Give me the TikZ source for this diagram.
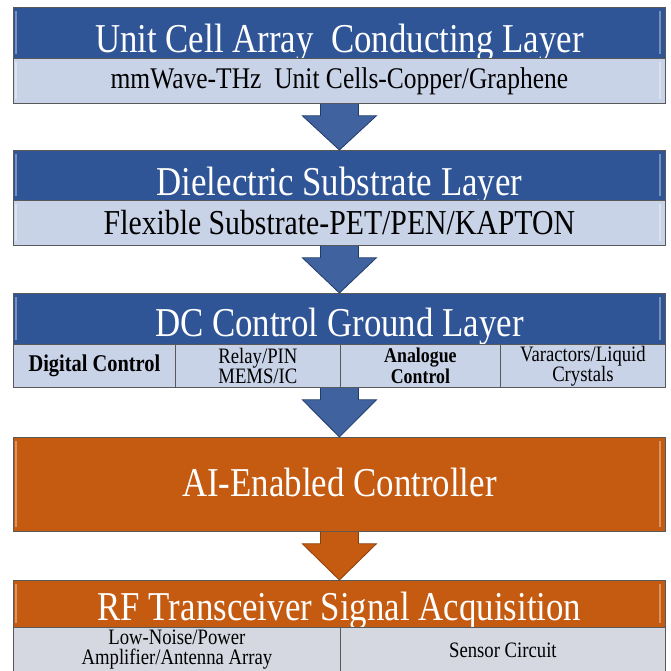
\documentclass[tikz,border=0pt]{standalone}
\usepackage{fontspec}
\setmainfont[FakeStretch=0.85]{Liberation Serif}
\usepackage{xcolor}
\definecolor{db}{RGB}{47, 85, 151}
\definecolor{lb}{RGB}{201, 211, 232}
\definecolor{og}{RGB}{197, 90, 17}
\definecolor{lg}{RGB}{213, 216, 225}
\definecolor{bd}{RGB}{89, 89, 89}

% block arrow from one layer down to the next
\newcommand{\layerarrow}[3]{%
    \draw[#3] ([xshift=-19pt]#1) -- ([xshift=-19pt, yshift=-12pt]#1) -- ([xshift=-37pt, yshift=-12pt]#1)
        -- (#2) -- ([xshift=37pt, yshift=-12pt]#1) -- ([xshift=19pt, yshift=-12pt]#1) -- ([xshift=19pt]#1);}

\begin{document}
\begin{tikzpicture}[x=1pt, y=-1pt,
        box/.style={draw=bd, line width=0.8pt, anchor=north west, inner sep=0pt},
        shine/.style={path picture={
            \draw[white, opacity=0.35, line width=2pt]
                ([xshift=3pt, yshift=-4pt]path picture bounding box.north west) -- ([xshift=3pt, yshift=4pt]path picture bounding box.south west)
                ([xshift=-5pt, yshift=-4pt]path picture bounding box.north east) -- ([xshift=-5pt, yshift=4pt]path picture bounding box.south east);}},
        title/.style={box, shine, fill=db, text=white, minimum width=652pt, minimum height=51pt,
            text height=40pt, text depth=0pt, font=\fontsize{41}{41}\selectfont},
        subrow/.style={box, shine, fill=lb, minimum width=652pt, minimum height=45pt},
        cell/.style={box, fill=lb, minimum height=43pt, align=center, font=\fontsize{22}{20}\selectfont},
        bluearrow/.style={fill=db!92!white, draw=db!70!black, line width=0.8pt},
        orangearrow/.style={fill=og, draw=og!70!black, line width=0.8pt}]
        \useasboundingbox (0,0) rectangle (670,671);
        \node[title] (unit) at (13,7) {Unit Cell Array~ Conducting Layer};
        \node[subrow, font=\fontsize{30}{30}\selectfont] (unitsub) at (13,58) {mmWave-THz~ Unit Cells-Copper/Graphene};
        \node[title, minimum height=50pt] (diel) at (13,150) {Dielectric Substrate Layer};
        \node[subrow, font=\fontsize{35}{35}\selectfont] (dielsub) at (13,200) {Flexible Substrate-PET/PEN/KAPTON};
        \node[title, text height=36pt] (dc) at (13,293) {DC Control Ground Layer};
        \node[cell, minimum width=162pt, font=\fontsize{24}{24}\selectfont\bfseries] (dig) at (13,344) {Digital Control};
        \node[cell, minimum width=165pt] (relay) at (175,344) {Relay/PIN\\MEMS/IC};
        \node[cell, minimum width=160pt, font=\fontsize{21}{19}\selectfont\bfseries] (ana) at (340,344) {Analogue\\Control};
        \node[cell, minimum width=165pt] (var) at (500,344) {Varactors/Liquid\\Crystals};
        \node[title, fill=og, minimum height=94pt, text height=24pt] (ai) at (13,437) {AI-Enabled Controller};
        \node[title, fill=og, minimum height=47pt, text height=33pt] (rf) at (13,580) {RF Transceiver Signal Acquisition};
        \node[cell, fill=lg, minimum width=327pt, minimum height=45pt] (lna) at (13,627) {Low-Noise/Power\\Amplifier/Antenna Array};
        \node[cell, fill=lg, minimum width=325pt, minimum height=45pt] (sens) at (340,627) {Sensor Circuit};
        \coordinate (dcfoot) at (dc.south |- ana.south);
        \layerarrow{unitsub.south}{diel.north}{bluearrow}
        \layerarrow{dielsub.south}{dc.north}{bluearrow}
        \layerarrow{dcfoot}{ai.north}{bluearrow}
        \layerarrow{ai.south}{rf.north}{orangearrow}
\end{tikzpicture}
\end{document}
